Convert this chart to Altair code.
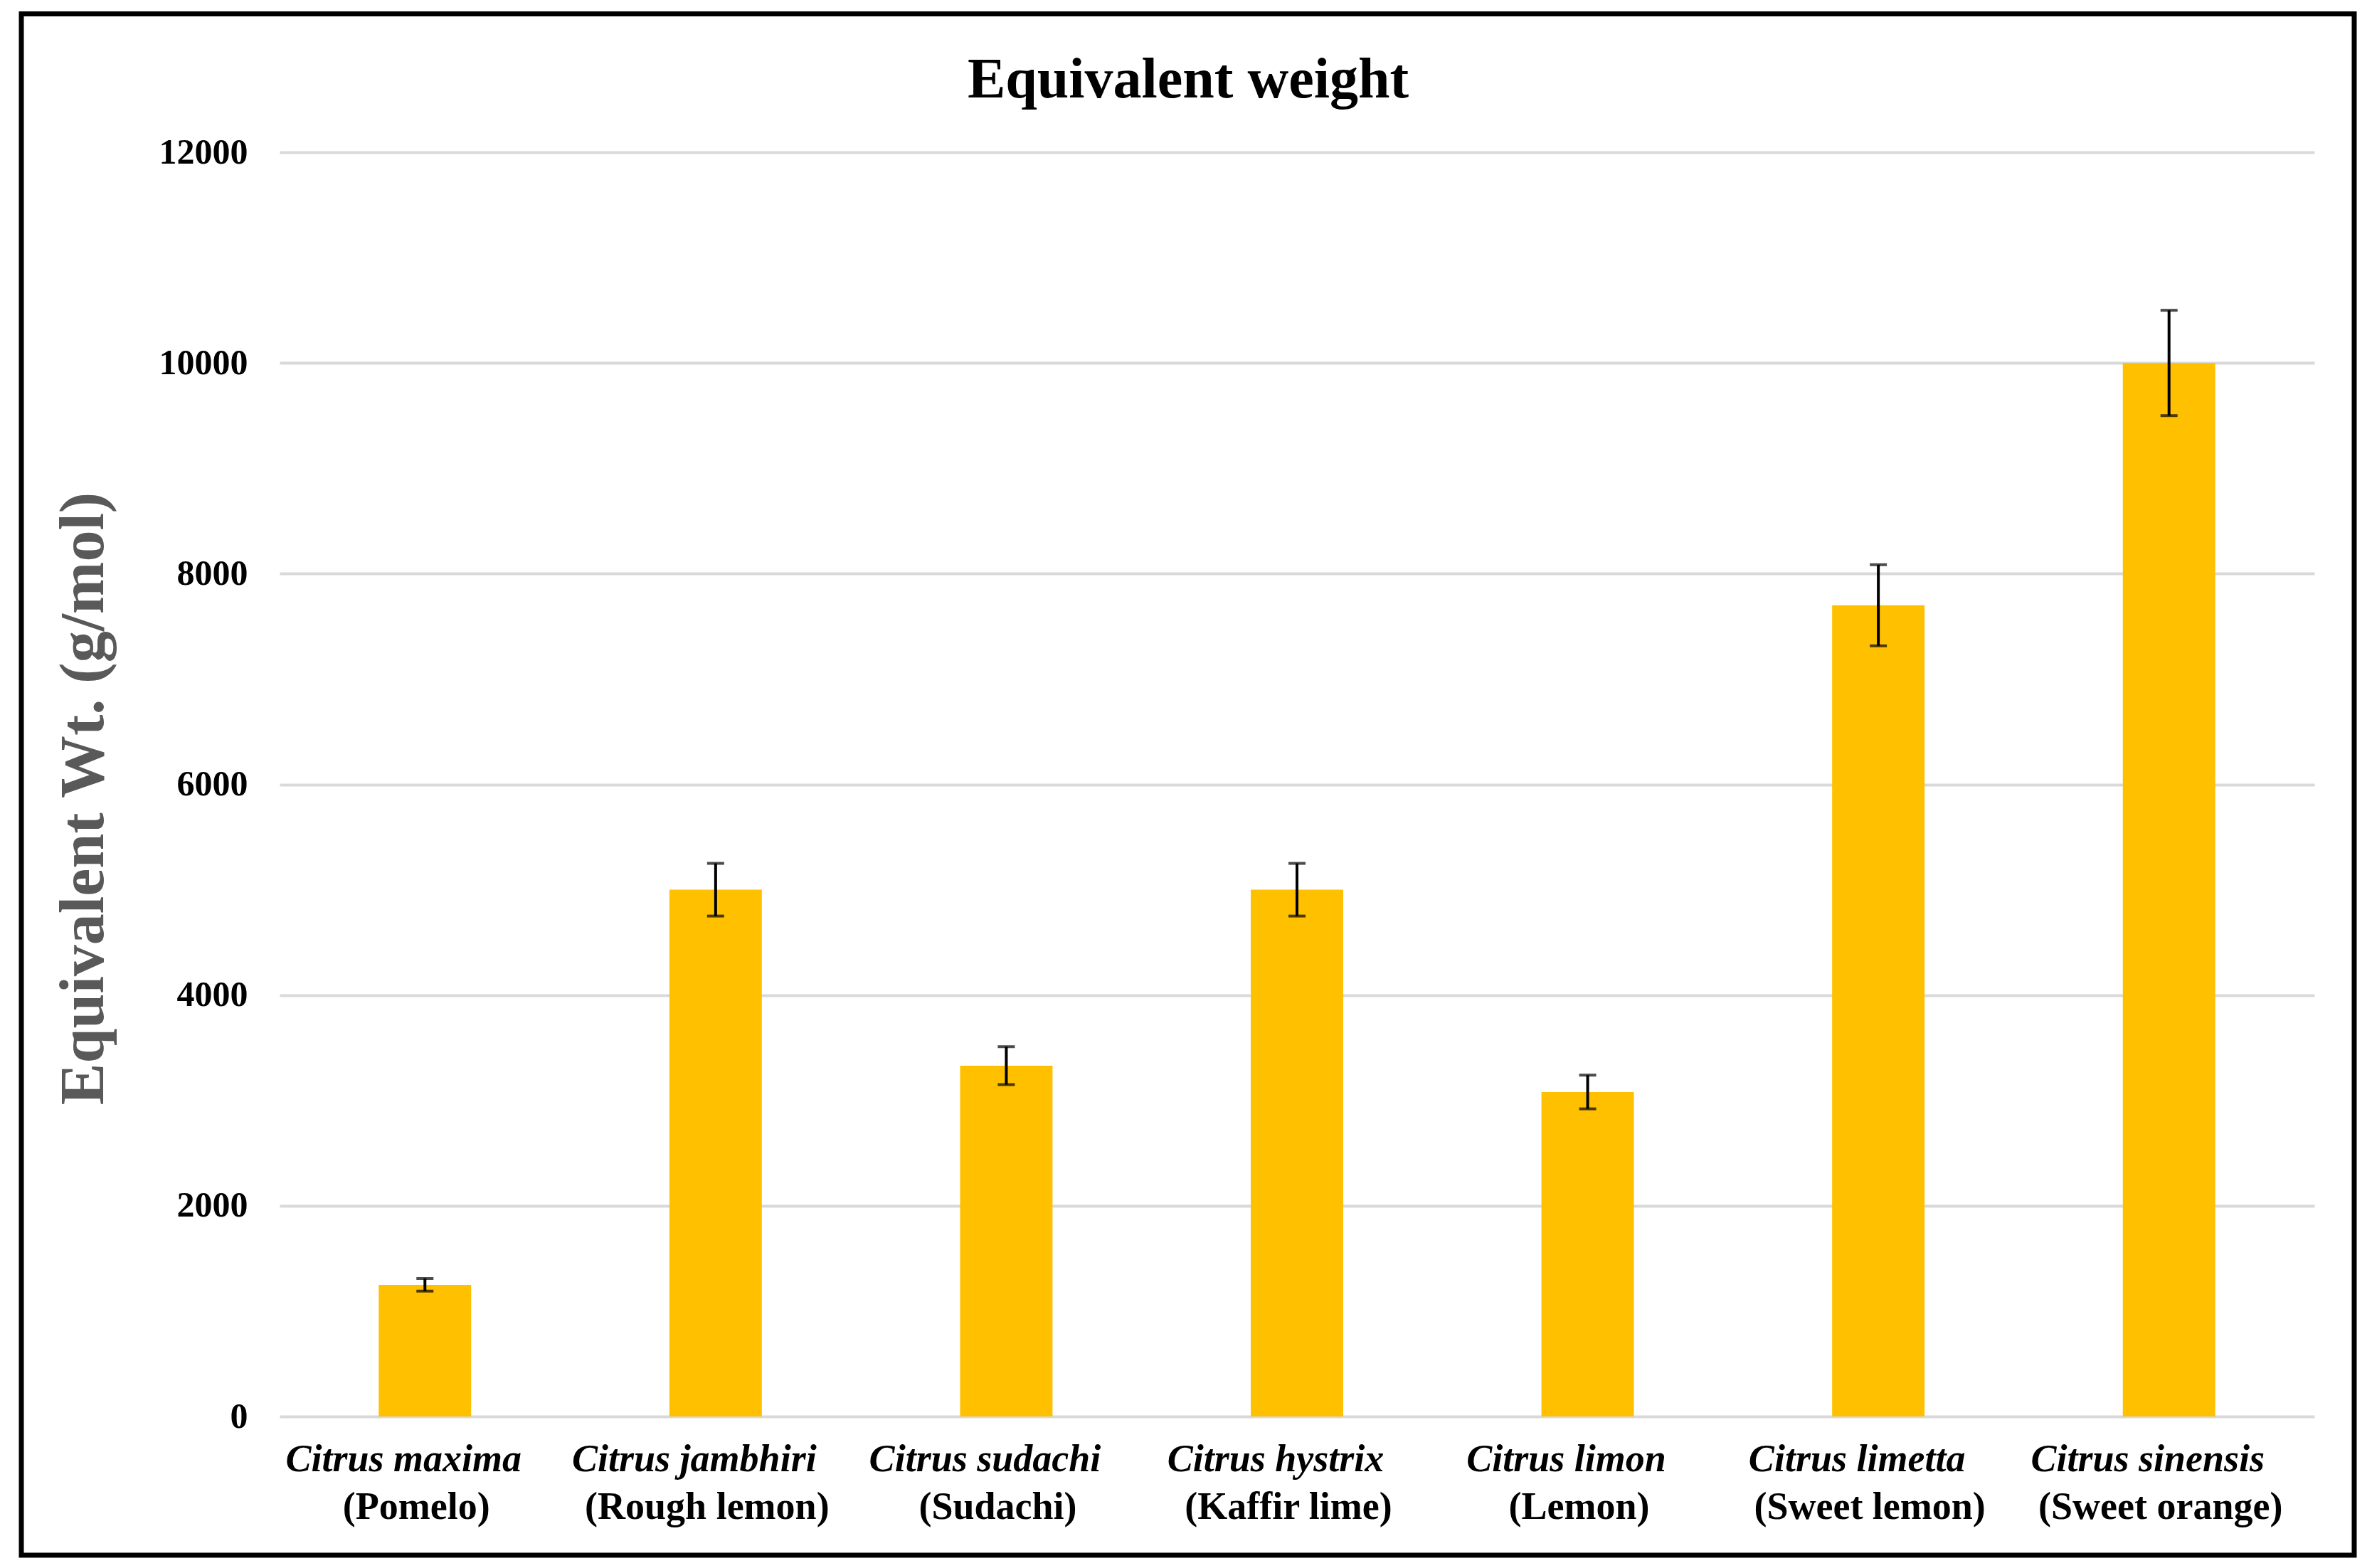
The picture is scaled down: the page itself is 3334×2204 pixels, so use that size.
import altair as alt
import pandas as pd

# ---- data ----
species = ["Citrus maxima", "Citrus jambhiri", "Citrus sudachi", "Citrus hystrix",
           "Citrus limon", "Citrus limetta", "Citrus sinensis"]
common = ["(Pomelo)", "(Rough lemon)", "(Sudachi)", "(Kaffir lime)",
          "(Lemon)", "(Sweet lemon)", "(Sweet orange)"]
values = [1250, 5000, 3330, 5000, 3080, 7700, 10000]
errors = [60, 250, 180, 250, 160, 385, 500]
y_ticks = [0, 2000, 4000, 6000, 8000, 10000, 12000]
chart_title = "Equivalent weight"
y_title = "Equivalent Wt. (g/mol)"

df = pd.DataFrame({"species": species, "common": common, "value": values, "err": errors})
df["lo"] = df["value"] - df["err"]
df["hi"] = df["value"] + df["err"]
one = pd.DataFrame({"k": [0]})

W, H = 2860, 1777
FONT = "Liberation Serif"

x = alt.X(
    "species:N", sort=species,
    scale=alt.Scale(domain=species, paddingInner=0.682, paddingOuter=0.341),
    axis=alt.Axis(title=None, labelAngle=0, labelFont=FONT, labelFontSize=54,
                  labelFontWeight="bold", labelFontStyle="italic", labelColor="black",
                  labelPadding=76, labelBaseline="alphabetic", labelOffset=-30,
                  labelLimit=600, labelOverlap=False,
                  ticks=False, tickSize=0, domain=False, grid=False),
)

yaxis = alt.Axis(values=y_ticks, format="d", title=y_title, titleFont=FONT, titleFontSize=88,
                 titleFontWeight="bold", titleColor="#595959", titleAngle=270,
                 titleX=-275, titleY=908, titleAlign="center", titleBaseline="middle",
                 labelFont=FONT, labelFontSize=50, labelFontWeight="bold", labelColor="black",
                 labelPadding=45, ticks=False, tickSize=0, domain=False,
                 grid=True, gridColor="#d9d9d9", gridWidth=4)
yscale = alt.Scale(domain=[0, 12000], nice=False)


def Y(field):
    return alt.Y(f"{field}:Q", scale=yscale, axis=yaxis)


base = alt.Chart(df)

bars = base.mark_bar(color="#FFC000").encode(x=x, y=Y("value"))
rule = base.mark_rule(color="black", strokeWidth=4).encode(x=x, y=Y("lo"), y2="hi:Q")
cap_hi = base.mark_tick(color="black", size=24, thickness=4).encode(x=x, y=Y("hi"))
cap_lo = base.mark_tick(color="black", size=24, thickness=4).encode(x=x, y=Y("lo"))

names = base.mark_text(font=FONT, fontSize=54, fontWeight="bold", color="black",
                       align="center", baseline="alphabetic", dx=-12).encode(
    x=x, y=alt.value(1921), text="common:N")

title = alt.Chart(one).mark_text(text=chart_title, font=FONT, fontSize=80, fontWeight="bold",
                                 color="black", align="center", baseline="alphabetic").encode(
    x=alt.value(1277), y=alt.value(-77))

border = alt.Chart(one).mark_rect(fillOpacity=0, stroke="black", strokeWidth=7).encode(
    x=alt.value(-363), x2=alt.value(2916), y=alt.value(-194.5), y2=alt.value(1972))

chart = alt.layer(bars, rule, cap_hi, cap_lo, names, title, border).properties(
    width=W, height=H,
    padding={"left": 385, "top": 206, "right": 62, "bottom": 200},
    autosize=alt.AutoSizeParams(type="none"),
    background="white",
).configure_view(strokeWidth=0)

chart.save("out.html", embed_options={"renderer": "svg", "actions": False})
